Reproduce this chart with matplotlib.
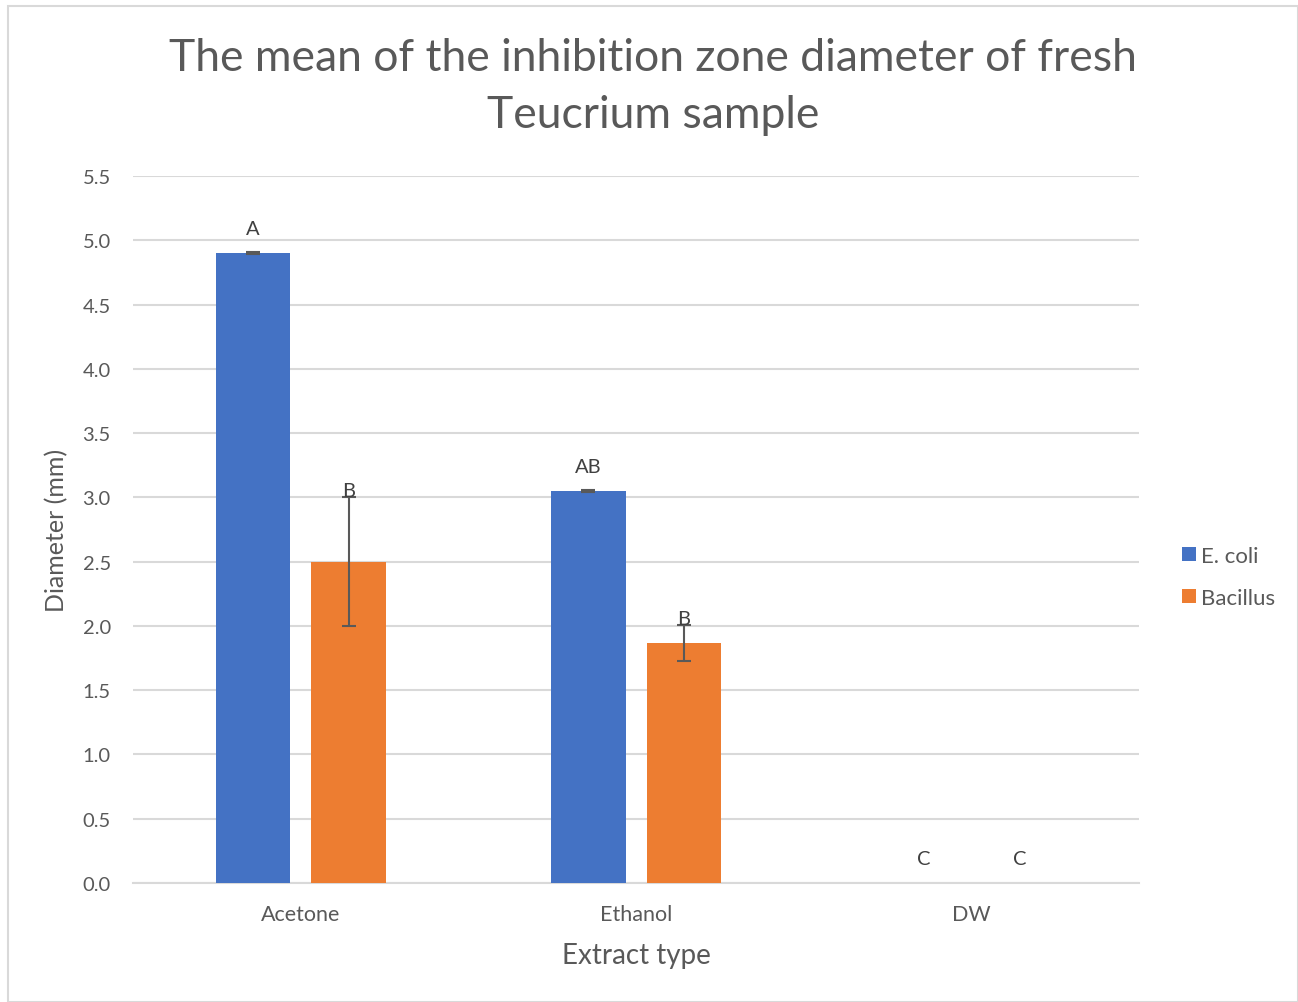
import numpy as np
import matplotlib as mpl
import matplotlib.pyplot as plt

mpl.rcParams['font.family'] = ['Lato', 'DejaVu Sans']
grey_text = '#595959'
grid_col = '#d9d9d9'

# dati
categories = ['Acetone', 'Ethanol', 'DW']
series = ['E. coli', 'Bacillus']
ecoli = [4.9, 3.05, 0.0]
ecoli_err = [0.01, 0.005, 0.0]
bacillus = [2.5, 1.87, 0.0]
bacillus_err = [0.5, 0.14, 0.0]
ecoli_letters = ['A', 'AB', 'C']
bacillus_letters = ['B', 'B', 'C']

fig = plt.figure(figsize=(12.98, 10.03), dpi=100)
ax = fig.add_axes([0.1025, 0.1186, 0.7753, 0.7049])

x = np.arange(len(categories))
w = 0.223
off = 0.1425
colors = ['#4472c4', '#ed7d31']

for vals, errs, letters, col, dx, name in [
        (ecoli, ecoli_err, ecoli_letters, colors[0], -off, series[0]),
        (bacillus, bacillus_err, bacillus_letters, colors[1], off, series[1])]:
    ax.bar(x + dx, vals, w, color=col, label=name, zorder=3)
    # niente barra d'errore dove l'errore e' zero
    m = np.array(errs) > 0
    ax.errorbar((x + dx)[m], np.array(vals)[m], yerr=np.array(errs)[m],
                fmt='none', ecolor=grey_text, elinewidth=1.5, capsize=5,
                capthick=1.5, zorder=4)
    for xi, v, e, t in zip(x + dx, vals, errs, letters):
        ypos = max(v + 0.19, v + e + 0.05)
        ax.text(xi, ypos, t, ha='center', va='center', fontsize=14.5,
                color='#404040', zorder=5)

ax.set_xlim(-0.5, 2.5)
ax.set_ylim(0, 5.5)
ax.set_yticks(np.arange(0, 5.51, 0.5))
ax.yaxis.set_major_formatter(mpl.ticker.FormatStrFormatter('%.1f'))
ax.set_xticks(x)
ax.set_xticklabels(categories)
ax.grid(axis='y', color=grid_col, linewidth=1.5, zorder=0)
for s in ['top', 'right', 'left']:
    ax.spines[s].set_visible(False)
ax.spines['bottom'].set_color(grid_col)
ax.spines['bottom'].set_linewidth(1.5)
ax.tick_params(length=0, labelsize=14.5, colors=grey_text)
ax.tick_params(axis='x', labelsize=15.5, pad=15)
ax.tick_params(axis='y', pad=16)

ax.set_xlabel('Extract type', fontsize=20, color=grey_text)
ax.set_ylabel('Diameter (mm)', fontsize=18, color=grey_text)
ax.xaxis.set_label_coords(0.5, -0.084)
ax.yaxis.set_label_coords(-0.064, 0.5)
fig.text(0.503, 0.9133,
         'The mean of the inhibition zone diameter of fresh\nTeucrium sample',
         ha='center', va='center', fontsize=32, color=grey_text,
         linespacing=1.5)

leg = ax.legend(loc='center left', bbox_to_anchor=(1.0427, 0.433),
                frameon=False, fontsize=16, borderaxespad=0, borderpad=0,
                handlelength=0.6, handleheight=0.6, handletextpad=0.25,
                labelspacing=1.0, labelcolor=grey_text)

# bordo dell'area del grafico
fig.patches.append(mpl.patches.Rectangle((0.006, 0.0), 0.994, 0.993,
                   transform=fig.transFigure, fill=False,
                   edgecolor=grid_col, linewidth=1.5))

fig.savefig('out.png', dpi=100)
